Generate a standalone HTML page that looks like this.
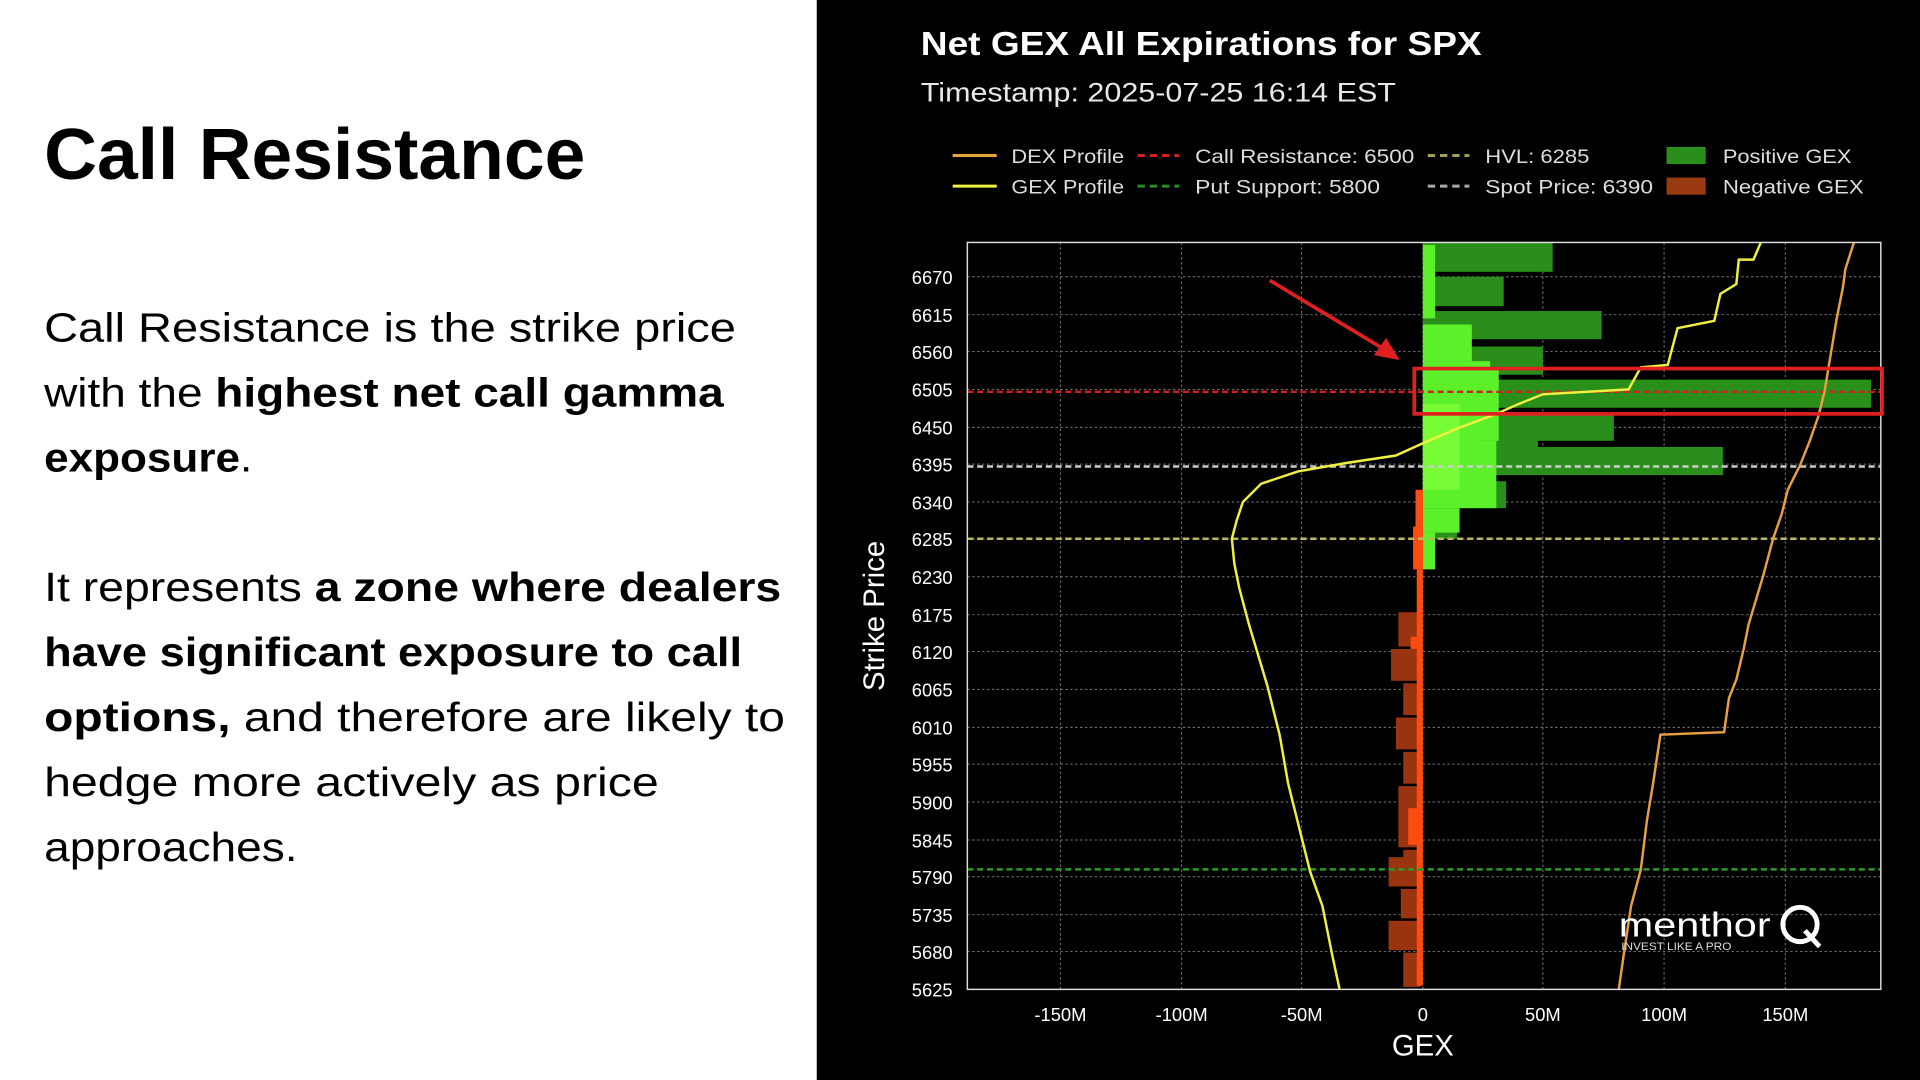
<!DOCTYPE html>
<html><head><meta charset="utf-8"><style>html,body{margin:0;padding:0;background:#fff;overflow:hidden}svg{display:block}</style></head><body>
<svg width="1920" height="1080" viewBox="0 0 1568 882" preserveAspectRatio="none" xmlns="http://www.w3.org/2000/svg" font-family="Liberation Sans, DejaVu Sans, sans-serif">
<rect x="0" y="0" width="667" height="882" fill="#fff"/>
<rect x="667" y="0" width="901" height="882" fill="#000"/>
<g fill="#000">
<text x="36" y="146" font-size="59" font-weight="bold" textLength="442" lengthAdjust="spacingAndGlyphs">Call Resistance</text>
<g font-size="33">
<text x="36" y="279" textLength="565" lengthAdjust="spacingAndGlyphs">Call Resistance is the strike price</text>
<text x="36" y="332" textLength="555" lengthAdjust="spacingAndGlyphs">with the <tspan font-weight="bold">highest net call gamma</tspan></text>
<text x="36" y="385" textLength="170" lengthAdjust="spacingAndGlyphs"><tspan font-weight="bold">exposure</tspan>.</text>
<text x="36" y="491" textLength="602" lengthAdjust="spacingAndGlyphs">It represents <tspan font-weight="bold">a zone where dealers</tspan></text>
<text x="36" y="544" textLength="570" lengthAdjust="spacingAndGlyphs" font-weight="bold">have significant exposure to call</text>
<text x="36" y="597" textLength="605" lengthAdjust="spacingAndGlyphs"><tspan font-weight="bold">options,</tspan> and therefore are likely to</text>
<text x="36" y="650" textLength="502" lengthAdjust="spacingAndGlyphs">hedge more actively as price</text>
<text x="36" y="703" textLength="207" lengthAdjust="spacingAndGlyphs">approaches.</text>
</g></g>
<g fill="#fff">
<text x="752" y="45" font-size="27" font-weight="bold" textLength="458" lengthAdjust="spacingAndGlyphs">Net GEX All Expirations for SPX</text>
<text x="752" y="83" font-size="22" fill="#e8e8e8" textLength="388" lengthAdjust="spacingAndGlyphs">Timestamp: 2025-07-25 16:14 EST</text>
</g>
<g font-size="16" fill="#ddd" lengthAdjust="spacingAndGlyphs">
<line x1="778" y1="127" x2="814" y2="127" stroke="#e8a040" stroke-width="2.5"/><text x="826" y="133" textLength="92" lengthAdjust="spacingAndGlyphs">DEX Profile</text>
<line x1="778" y1="152" x2="814" y2="152" stroke="#f0f040" stroke-width="2.5"/><text x="826" y="158" textLength="92" lengthAdjust="spacingAndGlyphs">GEX Profile</text>
<line x1="929" y1="127" x2="963" y2="127" stroke="#d02020" stroke-width="2.5" stroke-dasharray="6,4"/><text x="976" y="133" textLength="179" lengthAdjust="spacingAndGlyphs">Call Resistance: 6500</text>
<line x1="929" y1="152" x2="963" y2="152" stroke="#2a8a2a" stroke-width="2.5" stroke-dasharray="6,4"/><text x="976" y="158" textLength="151" lengthAdjust="spacingAndGlyphs">Put Support: 5800</text>
<line x1="1166" y1="127" x2="1200" y2="127" stroke="#a0a050" stroke-width="2.5" stroke-dasharray="6,4"/><text x="1213" y="133" textLength="85" lengthAdjust="spacingAndGlyphs">HVL: 6285</text>
<line x1="1166" y1="152" x2="1200" y2="152" stroke="#aaa" stroke-width="2.5" stroke-dasharray="6,4"/><text x="1213" y="158" textLength="137" lengthAdjust="spacingAndGlyphs">Spot Price: 6390</text>
<rect x="1361" y="120" width="32" height="14" fill="#2a8f1a"/><text x="1407" y="133" textLength="105" lengthAdjust="spacingAndGlyphs">Positive GEX</text>
<rect x="1361" y="145" width="32" height="14" fill="#9a3a10"/><text x="1407" y="158" textLength="115" lengthAdjust="spacingAndGlyphs">Negative GEX</text>
</g>
<g stroke="#777" stroke-width="0.8" stroke-dasharray="2,2">
<line x1="790" x2="1536" y1="226" y2="226"/><line x1="790" x2="1536" y1="257" y2="257"/><line x1="790" x2="1536" y1="287" y2="287"/><line x1="790" x2="1536" y1="318" y2="318"/><line x1="790" x2="1536" y1="349" y2="349"/><line x1="790" x2="1536" y1="379" y2="379"/><line x1="790" x2="1536" y1="410" y2="410"/><line x1="790" x2="1536" y1="440" y2="440"/><line x1="790" x2="1536" y1="471" y2="471"/><line x1="790" x2="1536" y1="502" y2="502"/><line x1="790" x2="1536" y1="532" y2="532"/><line x1="790" x2="1536" y1="563" y2="563"/><line x1="790" x2="1536" y1="594" y2="594"/><line x1="790" x2="1536" y1="624" y2="624"/><line x1="790" x2="1536" y1="655" y2="655"/><line x1="790" x2="1536" y1="686" y2="686"/><line x1="790" x2="1536" y1="716" y2="716"/><line x1="790" x2="1536" y1="747" y2="747"/><line x1="790" x2="1536" y1="777" y2="777"/>
<line y1="198" y2="808" x1="866" x2="866"/><line y1="198" y2="808" x1="965" x2="965"/><line y1="198" y2="808" x1="1063" x2="1063"/><line y1="198" y2="808" x1="1162" x2="1162"/><line y1="198" y2="808" x1="1260" x2="1260"/><line y1="198" y2="808" x1="1359" x2="1359"/><line y1="198" y2="808" x1="1458" x2="1458"/>
</g>
<g fill="#2a8f1a">
<rect x="1162" y="198" width="106" height="24"/><rect x="1162" y="226" width="66" height="24"/><rect x="1162" y="254" width="146" height="23"/><rect x="1162" y="283" width="98" height="23"/><rect x="1162" y="310" width="366" height="23"/><rect x="1162" y="338" width="156" height="22"/><rect x="1162" y="365" width="245" height="23"/><rect x="1162" y="350" width="94" height="26"/><rect x="1162" y="393" width="68" height="22"/><rect x="1162" y="418" width="28" height="22"/>
</g>
<g fill="#5cf02a">
<rect x="1162" y="200" width="10" height="60"/><rect x="1162" y="265" width="40" height="30"/><rect x="1162" y="295" width="55" height="20"/><rect x="1162" y="300" width="62" height="60"/><rect x="1162" y="360" width="60" height="55"/><rect x="1162" y="340" width="45" height="28"/><rect x="1162" y="415" width="30" height="20"/><rect x="1162" y="435" width="10" height="30"/>
</g>
<g fill="#7fff3a" opacity="0.8"><rect x="1162" y="330" width="30" height="70"/></g>
<g fill="#993310">
<rect x="1142" y="500" width="18" height="28"/><rect x="1136" y="530" width="24" height="26"/><rect x="1146" y="558" width="14" height="26"/><rect x="1140" y="586" width="20" height="26"/><rect x="1146" y="614" width="14" height="26"/><rect x="1142" y="642" width="18" height="50"/><rect x="1146" y="694" width="14" height="10"/><rect x="1134" y="700" width="26" height="24"/><rect x="1144" y="726" width="16" height="24"/><rect x="1134" y="752" width="26" height="24"/><rect x="1146" y="778" width="14" height="28"/>
</g>
<g fill="#ff4a10">
<rect x="1156" y="400" width="6" height="60"/><rect x="1154" y="430" width="8" height="35"/><rect x="1157" y="465" width="5" height="340"/><rect x="1152" y="520" width="6" height="10"/><rect x="1150" y="660" width="8" height="30"/>
</g>
<line x1="790" x2="1536" y1="320" y2="320" stroke="#d02020" stroke-width="2" stroke-dasharray="5,3"/>
<line x1="790" x2="1536" y1="381" y2="381" stroke="#ccc" stroke-width="2" stroke-dasharray="5,3"/>
<line x1="790" x2="1536" y1="440" y2="440" stroke="#b8b860" stroke-width="2" stroke-dasharray="5,3"/>
<line x1="790" x2="1536" y1="710" y2="710" stroke="#2a9a2a" stroke-width="2" stroke-dasharray="5,3"/>
<polyline fill="none" stroke="#f0f040" stroke-width="2" points="1094,808 1088,780 1080,740 1070,712 1062,680 1052,640 1045,600 1035,560 1026,530 1020,510 1012,480 1008,460 1006,440 1010,425 1015,410 1030,395 1060,385 1100,378 1140,372 1162,362 1190,350 1222,338 1240,330 1260,322 1330,318 1340,300 1362,298 1370,268 1400,262 1405,240 1418,232 1420,212 1432,212 1438,198"/>
<polyline fill="none" stroke="#e8a040" stroke-width="2" points="1322,808 1326,780 1332,740 1340,710 1345,670 1350,640 1356,600 1408,598 1412,570 1418,555 1424,530 1428,510 1440,470 1448,440 1455,420 1460,400 1470,380 1478,360 1485,340 1490,320 1495,290 1500,260 1505,235 1507,220 1514,198"/>
<rect x="790" y="198" width="746" height="610" fill="none" stroke="#ddd" stroke-width="1.2"/>
<rect x="1155" y="301" width="382" height="37" fill="none" stroke="#e02020" stroke-width="3"/>
<line x1="1037" y1="229" x2="1130" y2="285" stroke="#e02020" stroke-width="3"/>
<polygon points="1143,294 1122,290 1132,276" fill="#e02020"/>
<g font-size="15" fill="#fff" text-anchor="end">
<text x="778" y="232">6670</text><text x="778" y="263">6615</text><text x="778" y="293">6560</text><text x="778" y="324">6505</text><text x="778" y="355">6450</text><text x="778" y="385">6395</text><text x="778" y="416">6340</text><text x="778" y="446">6285</text><text x="778" y="477">6230</text><text x="778" y="508">6175</text><text x="778" y="538">6120</text><text x="778" y="569">6065</text><text x="778" y="600">6010</text><text x="778" y="630">5955</text><text x="778" y="661">5900</text><text x="778" y="692">5845</text><text x="778" y="722">5790</text><text x="778" y="753">5735</text><text x="778" y="783">5680</text><text x="778" y="814">5625</text>
</g>
<g font-size="15" fill="#fff" text-anchor="middle">
<text x="866" y="834">-150M</text><text x="965" y="834">-100M</text><text x="1063" y="834">-50M</text><text x="1162" y="834">0</text><text x="1260" y="834">50M</text><text x="1359" y="834">100M</text><text x="1458" y="834">150M</text>
<text x="1162" y="862" font-size="24">GEX</text>
<text transform="translate(722,503) rotate(-90)" font-size="24">Strike Price</text>
</g>
<text x="1322" y="765" font-size="28" fill="#fff" textLength="124" lengthAdjust="spacingAndGlyphs">menthor</text>
<circle cx="1470" cy="755" r="14" fill="none" stroke="#fff" stroke-width="4"/><line x1="1474" y1="760" x2="1486" y2="773" stroke="#fff" stroke-width="4"/>
<text x="1324" y="776" font-size="9" fill="#ddd" textLength="90" lengthAdjust="spacingAndGlyphs">INVEST LIKE A PRO</text>
</svg>
</body></html>
